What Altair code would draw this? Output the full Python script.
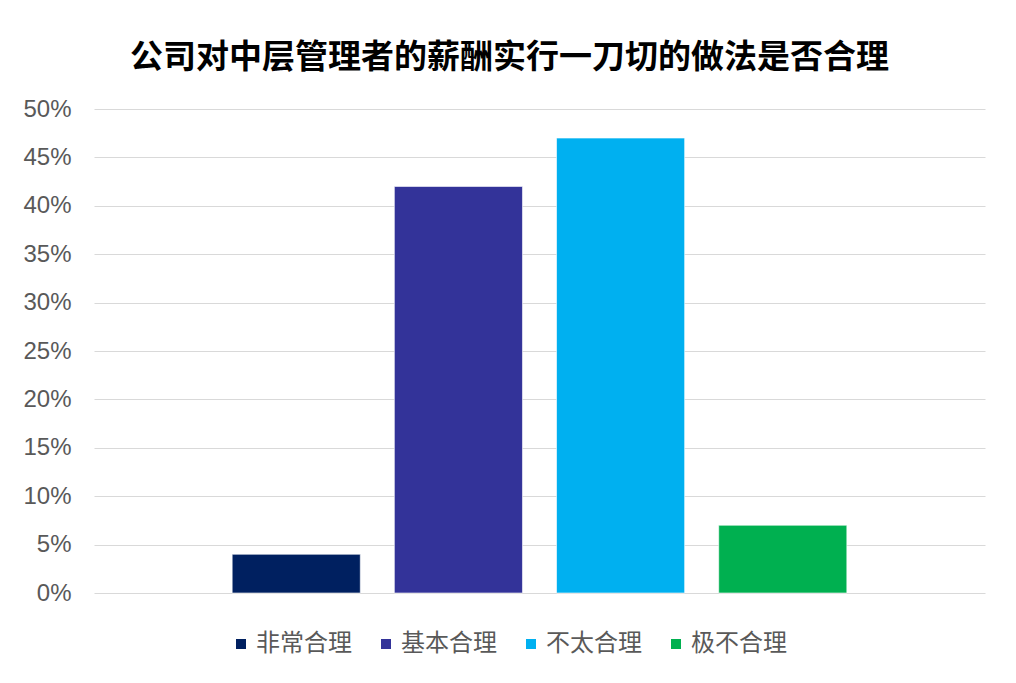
import altair as alt
import pandas as pd

categories = ["非常合理", "基本合理", "不太合理", "极不合理"]
values = [0.04, 0.42, 0.47, 0.07]
colors = ["#002060", "#333399", "#00B0F0", "#00B050"]
title_text = "公司对中层管理者的薪酬实行一刀切的做法是否合理"

df = pd.DataFrame({"cat": categories, "val": values})

chart = alt.Chart(df).mark_bar(stroke="#ffffff", strokeWidth=0.6).encode(
    x=alt.X("cat:N", sort=categories, axis=None,
            scale=alt.Scale(paddingInner=0.21, paddingOuter=0.852)),
    y=alt.Y("val:Q", scale=alt.Scale(domain=[0, 0.5]),
            axis=alt.Axis(format=".0%", values=[i * 0.05 for i in range(11)],
                          title=None, domain=False, ticks=False,
                          labelFontSize=24, labelColor="#595959",
                          labelFont="Liberation Sans", labelPadding=23,
                          minExtent=81, maxExtent=81,
                          gridColor="#D9D9D9", gridWidth=1)),
    color=alt.Color("cat:N", sort=categories,
                    scale=alt.Scale(domain=categories, range=colors),
                    legend=alt.Legend(title=None, orient="none", direction="horizontal",
                                      legendX=135, legendY=523,
                                      symbolType="square", symbolSize=100,
                                      symbolStrokeWidth=0, labelOffset=3,
                                      labelFontSize=24, labelColor="#595959",
                                      labelFont="Noto Sans CJK SC",
                                      columnPadding=22, labelLimit=300)),
).properties(
    width=891,
    height=484,
    padding={"left": 5, "top": 34, "right": 5, "bottom": 5},
    title=alt.TitleParams(title_text, fontSize=33, font="Noto Sans CJK SC",
                          fontWeight="bold", color="#000000", anchor="middle",
                          dx=-30, offset=22),
).configure_view(stroke=None)

chart.save("out.html", embed_options={"renderer": "svg", "actions": False})
